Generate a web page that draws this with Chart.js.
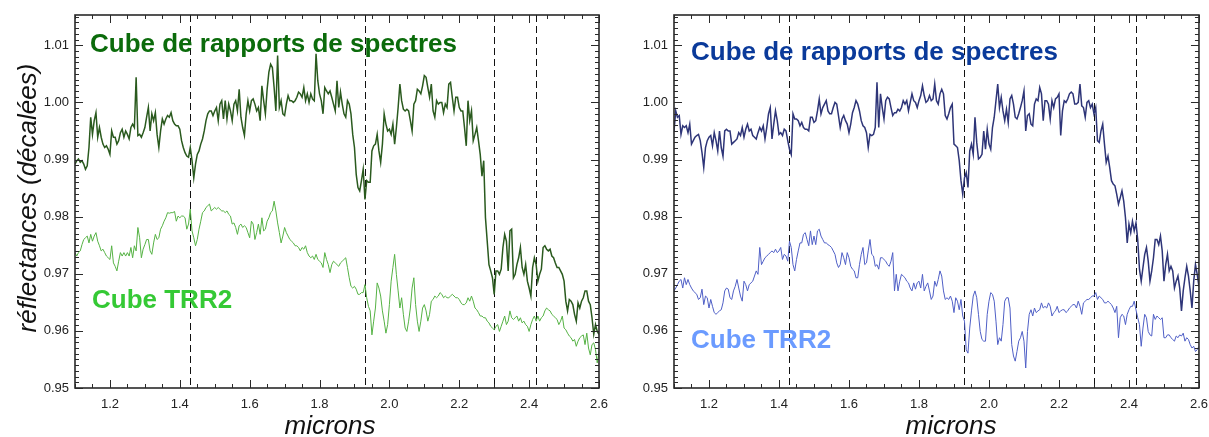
<!DOCTYPE html>
<html>
<head>
<meta charset="utf-8">
<script src="https://cdn.jsdelivr.net/npm/chart.js@4.4.1/dist/chart.umd.min.js"></script>
<style>
html,body{margin:0;padding:0;background:#fff;overflow:hidden;}
#wrap{position:relative;width:1209px;height:437px;overflow:hidden;}
canvas{position:absolute;top:0;}
#left{left:0;}
#right{left:620px;}
</style>
</head>
<body>
<div id="wrap">
<canvas id="left" width="620" height="437"></canvas>
<canvas id="right" width="597" height="437"></canvas>
</div>
<script>
// wavelength grid (microns), shared by all spectra
const wavelengths=[
1.1,1.105,1.11,1.115,1.12,1.125,1.13,1.135,1.14,1.145,1.15,1.155,1.16,1.165,1.17,1.175,1.18,1.185,1.19,1.195,
1.2,1.205,1.21,1.215,1.22,1.225,1.23,1.235,1.24,1.245,1.25,1.255,1.26,1.265,1.27,1.275,1.28,1.285,1.29,1.295,
1.3,1.305,1.31,1.315,1.32,1.325,1.33,1.335,1.34,1.345,1.35,1.355,1.36,1.365,1.37,1.375,1.38,1.385,1.39,1.395,
1.4,1.405,1.41,1.415,1.42,1.425,1.43,1.435,1.44,1.445,1.45,1.455,1.46,1.465,1.47,1.475,1.48,1.485,1.49,1.495,
1.5,1.505,1.51,1.515,1.52,1.525,1.53,1.535,1.54,1.545,1.55,1.555,1.56,1.565,1.57,1.575,1.58,1.585,1.59,1.595,
1.6,1.605,1.61,1.615,1.62,1.625,1.63,1.635,1.64,1.645,1.65,1.655,1.66,1.665,1.67,1.675,1.68,1.685,1.69,1.695,
1.7,1.705,1.71,1.715,1.72,1.725,1.73,1.735,1.74,1.745,1.75,1.755,1.76,1.765,1.77,1.775,1.78,1.785,1.79,1.795,
1.8,1.805,1.81,1.815,1.82,1.825,1.83,1.835,1.84,1.845,1.85,1.855,1.86,1.865,1.87,1.875,1.88,1.885,1.89,1.895,
1.9,1.905,1.91,1.915,1.92,1.925,1.93,1.935,1.94,1.945,1.95,1.955,1.96,1.965,1.97,1.975,1.98,1.985,1.99,1.995,
2.0,2.005,2.01,2.015,2.02,2.025,2.03,2.035,2.04,2.045,2.05,2.055,2.06,2.065,2.07,2.075,2.08,2.085,2.09,2.095,
2.1,2.105,2.11,2.115,2.12,2.125,2.13,2.135,2.14,2.145,2.15,2.155,2.16,2.165,2.17,2.175,2.18,2.185,2.19,2.195,
2.2,2.205,2.21,2.215,2.22,2.225,2.23,2.235,2.24,2.245,2.25,2.255,2.26,2.265,2.27,2.275,2.28,2.285,2.29,2.295,
2.3,2.305,2.31,2.315,2.32,2.325,2.33,2.335,2.34,2.345,2.35,2.355,2.36,2.365,2.37,2.375,2.38,2.385,2.39,2.395,
2.4,2.405,2.41,2.415,2.42,2.425,2.43,2.435,2.44,2.445,2.45,2.455,2.46,2.465,2.47,2.475,2.48,2.485,2.49,2.495,
2.5,2.505,2.51,2.515,2.52,2.525,2.53,2.535,2.54,2.545,2.55,2.555,2.56,2.565,2.57,2.575,2.58,2.585,2.59,2.595,
2.6];

// left panel : cube de rapports de spectres
const ratioLeft=[
0.9892,0.9898,0.9901,0.9895,0.9898,0.9892,0.9883,0.9889,0.9921,0.9974,0.9944,0.9968,0.9982,0.9939,0.9956,0.9939,0.9927,0.9921,0.9924,0.9918,0.9909,0.9950,
0.9939,0.9939,0.9927,0.9933,0.9947,0.9953,0.9939,0.9950,0.9944,0.9936,0.9956,0.9962,0.9956,1.0044,0.9942,0.9944,0.9939,0.9947,0.9956,0.9974,0.9991,
0.9950,0.9980,0.9968,0.9982,0.9944,0.9921,0.9950,0.9971,0.9962,0.9971,0.9977,0.9974,0.9982,0.9968,0.9962,0.9959,0.9959,0.9953,0.9933,0.9921,0.9912,
0.9906,0.9904,0.9921,0.9898,0.9868,0.9892,0.9909,0.9915,0.9927,0.9936,0.9950,0.9968,0.9980,0.9985,0.9985,0.9977,0.9985,0.9991,0.9968,0.9997,1.0003,0.9971,
1.0003,0.9971,0.9997,0.9985,0.9968,0.9997,1.0003,0.9985,1.0023,0.9974,0.9956,0.9942,0.9980,1.0003,0.9985,1.0003,1.0006,0.9997,0.9985,0.9991,
0.9968,1.0029,1.0003,0.9980,1.0023,1.0053,1.0067,1.0061,1.0026,0.9985,1.0082,0.9991,1.0003,0.9980,0.9977,0.9997,1.0012,1.0003,1.0003,
1.0000,1.0003,1.0009,1.0018,
1.0015,1.0009,1.0026,1.0003,1.0015,1.0000,1.0015,1.0006,1.0003,1.0085,1.0038,1.0015,1.0003,0.9980,1.0026,1.0020,1.0015,1.0020,1.0009,0.9997,0.9985,1.0038,0.9991,
1.0018,0.9997,0.9980,0.9974,1.0003,0.9997,0.9980,0.9944,0.9921,0.9874,0.9851,0.9845,0.9863,0.9883,0.9830,0.9863,0.9860,0.9860,0.9915,0.9924,0.9927,
0.9944,0.9915,0.9895,0.9927,0.9980,0.9962,0.9950,0.9953,0.9944,0.9962,0.9927,0.9956,0.9991,1.0032,1.0003,0.9988,0.9985,0.9988,0.9985,0.9968,0.9950,
0.9997,1.0003,1.0023,1.0020,1.0015,1.0029,1.0047,1.0044,1.0026,1.0009,1.0032,0.9985,0.9974,1.0003,0.9997,1.0000,1.0000,0.9982,0.9997,0.9991,
1.0032,1.0035,1.0009,0.9985,1.0009,1.0009,0.9991,0.9985,0.9985,0.9956,0.9924,1.0003,0.9968,0.9985,
0.9933,0.9944,0.9956,0.9933,0.9909,0.9871,0.9898,0.9798,0.9757,0.9716,0.9705,0.9693,0.9664,0.9705,0.9705,0.9699,0.9708,
0.9746,0.9769,0.9757,0.9705,0.9775,0.9778,0.9693,0.9699,0.9716,0.9728,0.9746,0.9711,0.9699,0.9716,0.9687,0.9675,0.9661,0.9711,0.9728,0.9716,0.9687,
0.9699,0.9708,0.9746,0.9749,0.9743,0.9740,0.9743,0.9731,0.9728,0.9719,0.9711,0.9711,0.9705,
0.9699,0.9687,0.9652,0.9635,0.9655,0.9652,0.9646,0.9629,0.9617,0.9649,0.9640,0.9652,0.9658,0.9670,0.9670,0.9652,0.9646,0.9623,0.9594,0.9611,0.9599,0.9594];

// left panel : cube TRR2
const trr2Left=[
0.9737,0.9731,0.9737,0.9740,0.9751,0.9760,0.9763,0.9766,0.9754,0.9769,0.9757,0.9766,0.9772,0.9757,0.9749,0.9740,0.9743,0.9737,0.9731,0.9728,0.9725,0.9749,
0.9719,0.9713,0.9705,0.9722,0.9737,0.9731,0.9737,0.9731,0.9737,0.9731,0.9746,0.9728,0.9749,0.9740,0.9781,0.9763,0.9728,0.9743,0.9751,0.9760,0.9760,
0.9740,0.9734,0.9754,0.9769,0.9760,0.9763,0.9778,0.9784,0.9792,0.9798,0.9807,0.9806,0.9807,0.9807,0.9809,0.9792,0.9801,0.9798,0.9801,0.9801,0.9798,
0.9778,0.9787,0.9813,0.9775,0.9763,0.9749,0.9760,0.9778,0.9792,0.9807,0.9810,0.9816,0.9819,0.9822,0.9810,0.9813,0.9816,0.9813,0.9816,0.9813,0.9810,0.9810,
0.9807,0.9810,0.9804,0.9801,0.9787,0.9789,0.9781,0.9769,0.9784,0.9787,0.9781,0.9784,0.9781,0.9772,0.9763,0.9792,0.9787,0.9760,0.9772,0.9787,
0.9769,0.9798,0.9775,0.9778,0.9792,0.9798,0.9807,0.9810,0.9827,0.9810,0.9789,0.9772,0.9754,0.9766,0.9781,0.9772,0.9766,0.9760,0.9757,
0.9754,0.9749,0.9749,0.9746,
0.9740,0.9746,0.9743,0.9749,0.9737,0.9731,0.9728,0.9731,0.9725,0.9734,0.9725,0.9722,0.9719,0.9711,0.9737,0.9725,0.9716,0.9702,0.9716,0.9722,0.9719,0.9716,0.9713,
0.9719,0.9722,0.9725,0.9728,0.9711,0.9693,0.9678,0.9675,0.9678,0.9673,0.9664,0.9664,0.9667,0.9667,0.9681,0.9658,0.9643,0.9635,0.9593,0.9617,0.9640,
0.9684,0.9675,0.9661,0.9635,0.9617,0.9596,0.9611,0.9646,0.9687,0.9711,0.9734,0.9699,0.9670,0.9640,0.9658,0.9629,0.9605,0.9599,0.9617,0.9640,0.9675,0.9693,
0.9646,0.9617,0.9599,0.9617,0.9640,0.9646,0.9635,0.9617,0.9629,0.9652,0.9655,0.9661,0.9658,0.9661,0.9667,0.9664,0.9658,0.9661,0.9658,
0.9658,0.9661,0.9664,0.9661,0.9658,0.9658,0.9655,0.9649,0.9646,0.9646,0.9649,0.9658,0.9652,0.9661,
0.9652,0.9640,0.9637,0.9632,0.9626,0.9626,0.9623,0.9623,0.9617,0.9614,0.9608,0.9605,0.9602,0.9608,0.9611,0.9599,0.9608,
0.9617,0.9626,0.9611,0.9617,0.9635,0.9623,0.9620,0.9623,0.9626,0.9617,0.9623,0.9614,0.9617,0.9611,0.9608,0.9599,0.9611,0.9620,0.9626,0.9617,0.9626,
0.9617,0.9623,0.9626,0.9635,0.9640,0.9637,0.9635,0.9629,0.9626,0.9623,0.9620,0.9611,0.9617,
0.9626,0.9605,0.9602,0.9596,0.9591,0.9588,0.9582,0.9585,0.9573,0.9582,0.9588,0.9591,0.9593,0.9576,0.9596,0.9570,0.9558,0.9576,0.9579,0.9567,0.9544,0.9564];

// right panel : cube de rapports de spectres
const ratioRight=[
0.9950,0.9985,0.9974,0.9977,0.9944,0.9959,0.9956,0.9959,0.9947,
0.9962,0.9927,0.9933,0.9939,0.9942,0.9944,0.9933,0.9912,0.9886,0.9921,0.9933,0.9939,0.9942,0.9924,0.9947,0.9933,0.9915,0.9950,0.9921,
0.9906,0.9950,0.9953,0.9950,0.9950,0.9927,0.9930,0.9933,0.9936,0.9947,0.9942,0.9956,0.9939,0.9953,0.9962,0.9950,0.9953,
0.9942,0.9939,0.9936,0.9947,0.9956,0.9950,0.9959,0.9936,0.9956,0.9980,0.9991,0.9936,0.9962,0.9985,0.9968,0.9944,0.9947,
0.9942,0.9953,0.9950,0.9933,0.9918,0.9909,0.9980,0.9971,0.9971,0.9968,0.9959,0.9965,0.9956,0.9953,0.9953,0.9950,0.9974,
0.9974,0.9965,0.9968,0.9985,1.0006,0.9980,0.9991,0.9997,1.0003,0.9985,0.9980,0.9980,0.9991,1.0000,0.9997,0.9977,0.9956,
0.9971,0.9977,0.9968,0.9962,0.9947,0.9962,0.9982,0.9991,1.0003,0.9997,0.9985,0.9968,0.9959,0.9956,0.9947,0.9921,0.9944,
0.9942,0.9944,0.9956,1.0035,0.9956,1.0015,0.9991,0.9971,1.0003,1.0009,1.0006,0.9991,0.9977,0.9982,0.9982,0.9988,
0.9985,0.9991,1.0003,0.9997,
1.0003,0.9985,1.0000,1.0015,1.0003,1.0000,0.9991,1.0003,1.0012,1.0029,1.0012,1.0000,1.0003,1.0012,1.0003,1.0006,1.0032,1.0003,0.9997,
1.0015,1.0023,1.0015,0.9977,0.9971,0.9980,0.9991,0.9997,0.9927,0.9924,0.9921,0.9898,0.9863,0.9839,0.9868,
0.9877,0.9851,0.9915,0.9927,0.9909,0.9974,0.9930,0.9901,0.9904,0.9909,0.9950,0.9918,0.9953,0.9927,0.9918,0.9956,0.9974,1.0003,1.0032,0.9991,1.0009,0.9985,0.9968,0.9988,0.9965,1.0006,
1.0012,0.9997,0.9974,0.9971,0.9980,0.9991,1.0003,1.0020,0.9950,0.9977,0.9980,0.9962,0.9959,0.9997,1.0006,1.0003,1.0026,1.0015,0.9968,1.0003,
1.0003,0.9997,0.9971,1.0003,0.9991,1.0006,1.0009,1.0015,0.9942,0.9985,1.0003,1.0000,1.0006,1.0015,1.0018,1.0015,
0.9997,0.9997,1.0000,1.0032,0.9994,0.9991,0.9974,1.0000,1.0003,0.9991,0.9997,0.9980,0.9991,0.9933,0.9930,
0.9950,0.9962,0.9927,0.9895,0.9906,0.9886,0.9863,0.9857,0.9854,0.9839,0.9822,0.9833,0.9845,0.9827,0.9798,0.9754,0.9787,0.9772,0.9792,0.9775,0.9789,0.9760,0.9708,0.9687,0.9711,0.9734,0.9746,0.9722,0.9687,0.9705,0.9728,0.9760,
0.9760,0.9751,0.9766,0.9740,0.9687,0.9716,0.9734,0.9705,0.9713,0.9705,0.9675,0.9687,0.9696,0.9675,0.9635,0.9670,0.9693,0.9713,0.9696,0.9670,0.9640,0.9687,0.9716,0.9699,0.9678];

// right panel : cube TRR2
const trr2Right=[
0.9670,0.9675,0.9681,0.9687,0.9690,0.9675,0.9693,0.9681,0.9690,
0.9681,0.9675,0.9670,0.9667,0.9664,0.9655,0.9658,0.9673,0.9646,0.9661,0.9658,0.9640,0.9655,0.9643,0.9632,0.9629,0.9632,0.9635,0.9637,
0.9649,0.9670,0.9675,0.9673,0.9658,0.9655,0.9670,0.9678,0.9690,0.9675,0.9661,0.9652,0.9687,0.9681,0.9670,0.9681,0.9684,
0.9687,0.9696,0.9705,0.9699,0.9746,0.9716,0.9722,0.9728,0.9731,0.9734,0.9737,0.9740,0.9737,0.9743,0.9737,0.9740,0.9746,
0.9725,0.9734,0.9731,0.9722,0.9757,0.9746,0.9716,0.9705,0.9725,0.9740,0.9754,0.9754,0.9769,0.9772,0.9760,0.9749,0.9775,
0.9751,0.9766,0.9751,0.9775,0.9778,0.9766,0.9760,0.9754,0.9754,0.9751,0.9749,0.9746,0.9740,0.9734,0.9719,0.9711,0.9716,
0.9737,0.9728,0.9716,0.9737,0.9728,0.9713,0.9708,0.9705,0.9693,0.9693,0.9716,0.9734,0.9746,0.9716,0.9719,0.9740,0.9760,
0.9734,0.9731,0.9713,0.9716,0.9708,0.9728,0.9728,0.9725,0.9722,0.9716,0.9713,0.9722,0.9737,0.9670,0.9699,0.9670,
0.9687,0.9699,0.9696,0.9693,
0.9687,0.9684,0.9675,0.9670,0.9684,0.9673,0.9684,0.9687,0.9675,0.9699,0.9670,0.9678,0.9684,0.9670,0.9655,0.9661,0.9687,0.9678,0.9690,
0.9705,0.9696,0.9670,0.9655,0.9658,0.9655,0.9661,0.9652,0.9632,0.9658,0.9652,0.9637,0.9655,0.9626,0.9617,
0.9567,0.9561,0.9605,0.9635,0.9661,0.9670,0.9658,0.9629,0.9599,0.9585,0.9582,0.9582,0.9629,0.9652,0.9667,0.9664,0.9652,0.9617,0.9576,0.9588,0.9582,0.9611,0.9652,0.9658,0.9658,0.9640,
0.9576,0.9556,0.9547,0.9564,0.9582,0.9588,0.9599,0.9582,0.9535,0.9599,0.9629,0.9637,0.9626,0.9640,0.9632,0.9635,0.9637,0.9649,0.9640,0.9643,
0.9640,0.9649,0.9643,0.9626,0.9632,0.9635,0.9643,0.9632,0.9635,0.9637,0.9637,0.9632,0.9635,0.9640,0.9643,0.9646,
0.9646,0.9640,0.9652,0.9643,0.9629,0.9649,0.9652,0.9655,0.9655,0.9658,0.9661,0.9661,0.9667,0.9655,0.9661,
0.9658,0.9655,0.9649,0.9649,0.9652,0.9649,0.9646,0.9640,0.9632,0.9643,0.9588,0.9623,0.9629,0.9626,0.9611,0.9629,0.9637,0.9643,0.9643,0.9652,0.9637,0.9623,0.9611,0.9573,0.9605,0.9629,0.9623,0.9599,0.9593,0.9591,0.9629,0.9620,
0.9626,0.9623,0.9620,0.9623,0.9588,0.9588,0.9593,0.9593,0.9588,0.9585,0.9582,0.9591,0.9588,0.9593,0.9591,0.9596,0.9582,0.9588,0.9585,0.9576,0.9570,0.9573,0.9564,0.9567,0.9573];

const bandLines=[1.43,1.93,2.30,2.42];          // dashed absorption markers
const xTickLabels=[1.2,1.4,1.6,1.8,2.0,2.2,2.4,2.6];
const yTickLabels=[0.95,0.96,0.97,0.98,0.99,1.00,1.01];

const FONT='"Liberation Sans", Arial, Helvetica, sans-serif';
const pts=vals=>wavelengths.map((w,i)=>({x:w,y:vals[i]}));

// frame, inward ticks (IDL style), dashed markers and annotations
const decor={
  id:'decor',
  beforeDatasetsDraw(chart){
    const {ctx,chartArea:a,scales:{x}}=chart;
    ctx.save();
    ctx.strokeStyle='#111';ctx.lineWidth=1;ctx.setLineDash([7,4]);
    bandLines.forEach(b=>{
      const px=Math.round(x.getPixelForValue(b))+0.5;
      ctx.beginPath();ctx.moveTo(px,a.top);ctx.lineTo(px,a.bottom);ctx.stroke();
    });
    ctx.restore();
  },
  afterDatasetsDraw(chart,args,opts){
    const {ctx,chartArea:a,scales:{x,y}}=chart;
    ctx.save();
    ctx.strokeStyle='#2a2a2a';ctx.lineWidth=1;
    ctx.beginPath();
    for(let k=0;k<=30;k++){
      const v=1.1+k*0.05;
      const px=Math.round(x.getPixelForValue(v))+0.5;
      const len=(k%4===2)?8:4;
      ctx.moveTo(px,a.bottom);ctx.lineTo(px,a.bottom-len);
      ctx.moveTo(px,a.top);ctx.lineTo(px,a.top+len);
    }
    for(let k=0;k<=65;k++){
      const v=0.95+k*0.001;
      const py=Math.round(y.getPixelForValue(v))+0.5;
      const len=(k%10===0)?8:4;
      ctx.moveTo(a.left,py);ctx.lineTo(a.left+len,py);
      ctx.moveTo(a.right,py);ctx.lineTo(a.right-len,py);
    }
    ctx.stroke();
    ctx.lineWidth=1.6;
    ctx.strokeRect(a.left,a.top,a.right-a.left,a.bottom-a.top);
    opts.labels.forEach(l=>{
      ctx.save();
      ctx.fillStyle=l.color;
      ctx.font=l.font;
      ctx.textAlign=l.align||'left';
      ctx.textBaseline='alphabetic';
      ctx.translate(l.x,l.y);
      if(l.rotate) ctx.rotate(l.rotate);
      ctx.fillText(l.text,0,0);
      ctx.restore();
    });
    ctx.restore();
  }
};

function makeChart(id,top,bottom,yWidth,padRight,labels){
  return new Chart(document.getElementById(id),{
    type:'line',
    data:{datasets:[
      {data:pts(top.values),borderColor:top.color,borderWidth:1.5},
      {data:pts(bottom.values),borderColor:bottom.color,borderWidth:1}
    ]},
    options:{
      responsive:false,animation:false,devicePixelRatio:1,
      layout:{padding:{top:15,right:padRight,left:0,bottom:0}},
      elements:{point:{radius:0},line:{tension:0}},
      plugins:{legend:{display:false},tooltip:{enabled:false},decor:{labels}},
      scales:{
        x:{type:'linear',min:1.1,max:2.6,
          afterBuildTicks:s=>{s.ticks=xTickLabels.map(v=>({value:v}));},
          afterFit:s=>{s.height=49;},
          grid:{display:false,drawTicks:false},border:{display:false},
          ticks:{autoSkip:false,maxRotation:0,padding:9,color:'#222',font:{family:FONT,size:13},callback:v=>v.toFixed(1)}},
        y:{type:'linear',min:0.95,max:1.0153,
          afterBuildTicks:s=>{s.ticks=yTickLabels.map(v=>({value:v}));},
          afterFit:s=>{s.width=yWidth;},
          grid:{display:false,drawTicks:false},border:{display:false},
          ticks:{padding:6,color:'#222',font:{family:FONT,size:13},callback:v=>v.toFixed(2)}}
      }
    },
    plugins:[decor]
  });
}

const titleFont='bold 26px '+FONT;
const axisFont='italic 26px '+FONT;

makeChart('left',
  {values:ratioLeft,color:'#2a5a1e'},
  {values:trr2Left,color:'#55b244'},
  75,21,[
    {text:'Cube de rapports de spectres',x:90,y:52,color:'#0b6b0b',font:titleFont},
    {text:'Cube TRR2',x:92,y:308,color:'#35c935',font:titleFont},
    {text:'microns',x:330,y:434,color:'#111',font:axisFont,align:'center'},
    {text:'réflectances (décalées)',x:36,y:198,color:'#111',font:axisFont,align:'center',rotate:-Math.PI/2}
  ]);

makeChart('right',
  {values:ratioRight,color:'#2e3578'},
  {values:trr2Right,color:'#4f5fc6'},
  54,18,[
    {text:'Cube de rapports de spectres',x:71,y:60,color:'#0a3a9a',font:titleFont},
    {text:'Cube TRR2',x:71,y:348,color:'#6b9bff',font:titleFont},
    {text:'microns',x:331,y:434,color:'#111',font:axisFont,align:'center'}
  ]);
</script>
</body>
</html>
